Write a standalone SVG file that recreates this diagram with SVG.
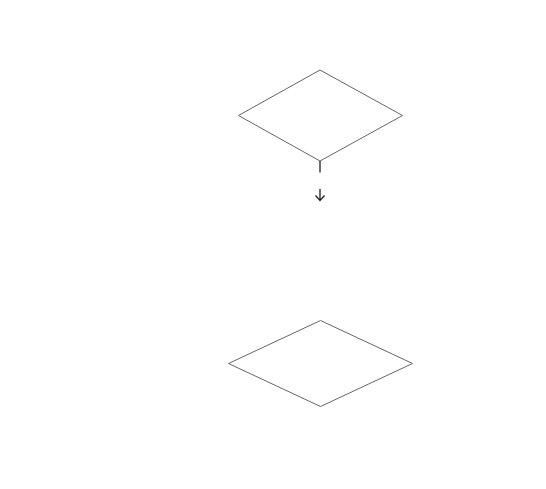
<svg xmlns="http://www.w3.org/2000/svg" width="546" height="489" viewBox="0 0 546 489">
<style>
.node{fill:#fff;stroke:#666;stroke-width:1}
.edge{fill:none;stroke:#222;stroke-width:1.3}
</style>
<rect width="546" height="489" fill="#fff"/>
<g id="decision1"><polygon class="node" points="320,70 402.5,115.5 320,161 238.5,115.5"/></g>
<g id="decision2"><polygon class="node" points="320.5,320.5 412.5,363.5 320.5,406.5 228.5,363.5"/></g>
<g id="connectors">
<path class="edge" d="M320,161 V172.5"/>
<path class="edge" d="M320,189 V200.5 M315.5,195.5 L320,200.5 L324.5,195.5"/>
</g>
</svg>
